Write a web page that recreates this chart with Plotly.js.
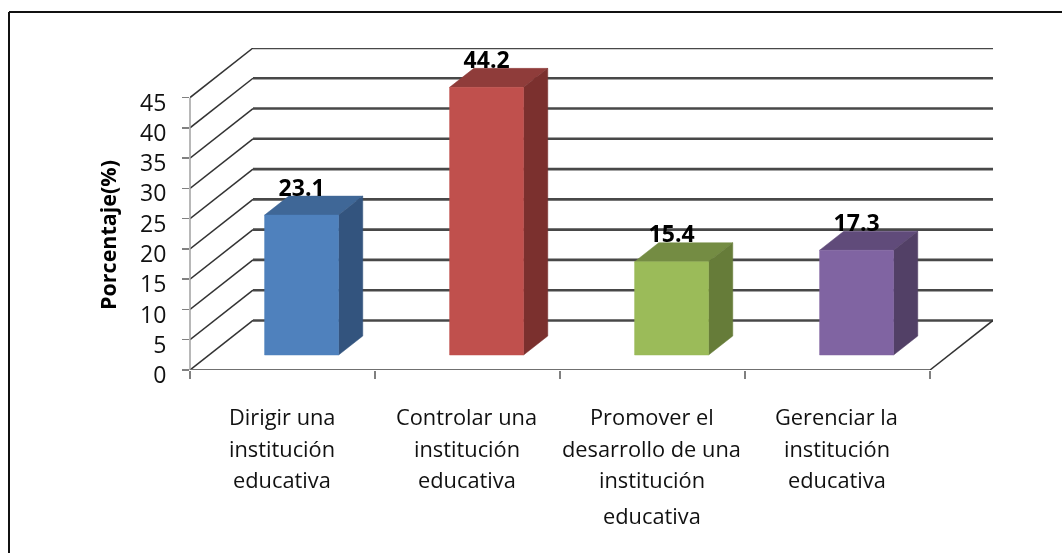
<!DOCTYPE html>
<html><head><meta charset="utf-8">
<script src="https://cdn.plot.ly/plotly-3.0.1.min.js"></script>
<style>html,body{margin:0;padding:0;background:#fff}#chart{width:1062px;height:553px;filter:blur(0.4px)}</style>
</head><body><div id="chart"></div>
<script>
const categories = [
  ["Dirigir una","institución","educativa"],
  ["Controlar una","institución","educativa"],
  ["Promover el","desarrollo de una","institución","educativa"],
  ["Gerenciar la","institución","educativa"]
];
const values = [23.1, 44.2, 15.4, 17.3];
const frontColors = ["#4F81BD","#C0504D","#9BBB59","#8064A2"];
const topColors   = ["#3F6797","#8F3C3A","#748C43","#604B7A"];
const sideColors  = ["#33547E","#7B302E","#667C39","#524066"];
const yTicks = [0,5,10,15,20,25,30,35,40,45];

const W=1062,H=553;
const L=190,R=993,T=48,B=370;
const pxX=185, pxY=6.05;            // pixels per category / per percentage point
const wallX=63/pxX, wallY=49.5/pxY; // depth of the 3D box, in axis units
const barD0=15/49.5, barD1=34/49.5; // bar front/back, as a fraction of depth
const barW=0.4, barStart=0.3;
const FONT='"Open Sans", sans-serif';

const traces=[];
function line(x,y,color,width){
  traces.push({type:'scatter',mode:'lines',x,y,line:{color,width},hoverinfo:'skip',showlegend:false,cliponaxis:false});
}
function poly(x,y,color){
  traces.push({type:'scatter',mode:'lines',x:[...x,x[0]],y:[...y,y[0]],fill:'toself',fillcolor:color,
    line:{color,width:0.5},hoverinfo:'skip',showlegend:false,cliponaxis:false});
}
// walls
yTicks.forEach(v=>{
  line([0,wallX],[v,v+wallY],'#333333',1.5);
  line([wallX,4+wallX],[v+wallY,v+wallY],'#484848',2.6);
});
line([4,4+wallX],[0,wallY],'#333333',1.5);
// bars
values.forEach((v,i)=>{
  const x0=i+barStart, x1=x0+barW;
  const fx=barD0*wallX, fy=barD0*wallY, bx=barD1*wallX, by=barD1*wallY;
  poly([x0+fx,x1+fx,x1+bx,x0+bx],[v+fy,v+fy,v+by,v+by],topColors[i]);
  poly([x1+fx,x1+bx,x1+bx,x1+fx],[fy,by,v+by,v+fy],sideColors[i]);
  poly([x0+fx,x1+fx,x1+fx,x0+fx],[fy,fy,v+fy,v+fy],frontColors[i]);
});
// value labels
traces.push({type:'scatter',mode:'text',
  x:values.map((v,i)=>i+barStart+barW/2+barD0*wallX),
  y:values.map(v=>v+barD0*wallY+25/pxY),
  text:values.map(v=>v.toFixed(1)),textposition:'middle center',
  textfont:{family:FONT,size:23,color:'#000',weight:700},
  hoverinfo:'skip',showlegend:false,cliponaxis:false});

// category labels, one annotation a line
const lineY=[416,448,480,515];
const annotations=[];
categories.forEach((lines,i)=>lines.forEach((t,j)=>annotations.push({
  text:t,x:i+0.5-0.005,xref:'x',y:(B-lineY[j])/(B-T),yref:'paper',yanchor:'middle',xanchor:'center',showarrow:false,
  font:{family:FONT,size:21.8,color:'#111'}
})));
annotations.push({text:'<b>Porcentaje(%)</b>',xref:'paper',yref:'paper',x:(107-L)/(R-L),y:(B-235)/(B-T),
  textangle:-90,showarrow:false,xanchor:'center',yanchor:'middle',font:{family:FONT,size:21.5,color:'#000'}});

const layout={
  width:W,height:H,margin:{l:L,r:W-R,t:T,b:H-B},
  paper_bgcolor:'#fff',plot_bgcolor:'rgba(0,0,0,0)',showlegend:false,
  xaxis:{range:[0,4+wallX],tickmode:'array',tickvals:[0,1,2,3,4],ticktext:['','','','',''],ticks:'outside',ticklen:8,
    tickcolor:'#808080',tickwidth:1.5,showgrid:false,zeroline:false,showline:false,fixedrange:true},
  yaxis:{range:[0,45+wallY],tickmode:'array',tickvals:yTicks,ticktext:yTicks.map(String),ticks:'outside',ticklen:7,
    tickcolor:'#808080',tickwidth:1.5,showgrid:false,zeroline:false,showline:false,fixedrange:true,
    tickfont:{family:FONT,size:23,color:'#111'},ticklabelstandoff:11,ticklabelshift:5},
  annotations,
  shapes:[
    {type:'line',xref:'paper',yref:'paper',x0:0,x1:0,y0:0,y1:(45*pxY)/(B-T),line:{color:'#a0a0a0',width:1.5}},
    {type:'line',xref:'x',yref:'y',x0:0,x1:4,y0:0,y1:0,line:{color:'#707070',width:2.2}},
    {type:'line',xref:'paper',yref:'paper',x0:(9-L)/(R-L),x1:(1062-L)/(R-L),y0:(B-12)/(B-T),y1:(B-12)/(B-T),line:{color:'#111',width:2}},
    {type:'line',xref:'paper',yref:'paper',x0:(9-L)/(R-L),x1:(9-L)/(R-L),y0:(B-553)/(B-T),y1:(B-12)/(B-T),line:{color:'#111',width:2}}
  ]
};
Plotly.newPlot('chart',traces,layout,{displayModeBar:false,staticPlot:true});
</script></body></html>
